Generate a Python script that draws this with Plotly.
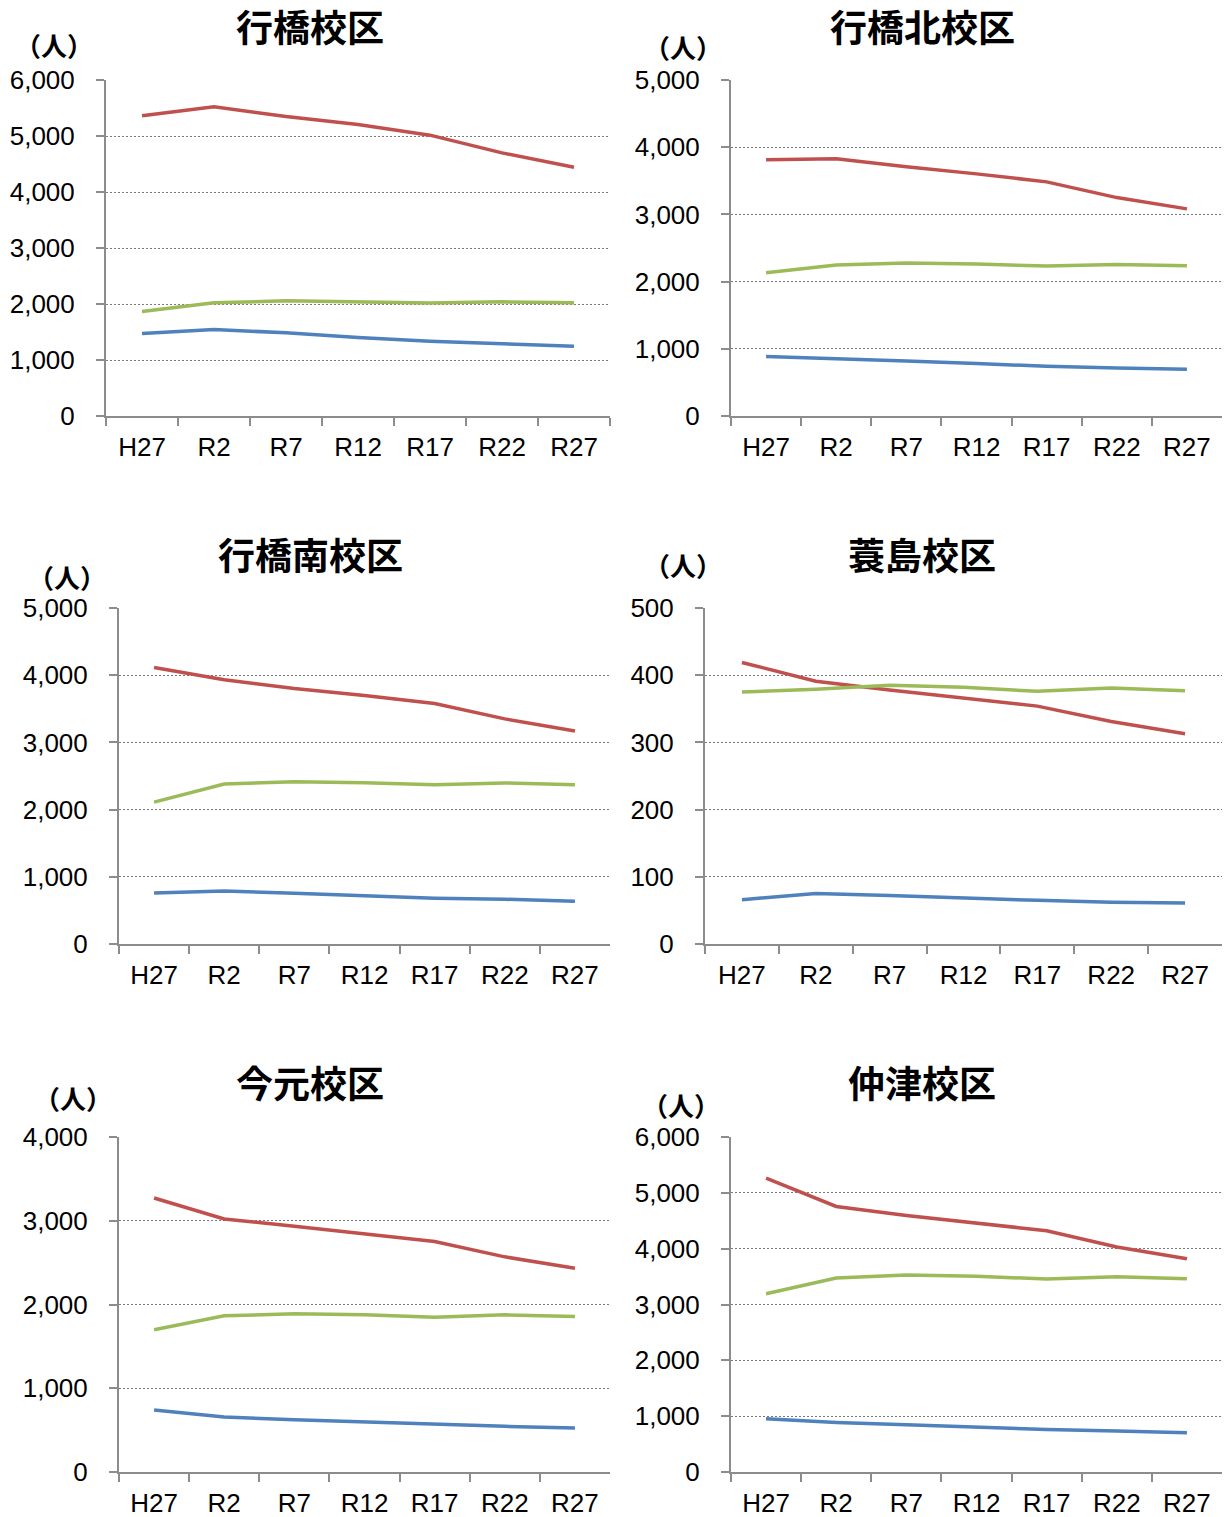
import plotly.graph_objects as go

# Census years (H27) and projection years (R2 ... R27)
years = ["H27", "R2", "R7", "R12", "R17", "R22", "R27"]

district_names = ["行橋校区", "行橋北校区", "行橋南校区", "蓑島校区", "今元校区", "仲津校区"]

# 行橋校区
yukuhashi_young = [1473, 1544, 1485, 1401, 1336, 1288, 1246]
yukuhashi_working = [5361, 5522, 5349, 5206, 5015, 4699, 4443]
yukuhashi_elderly = [1866, 2021, 2057, 2039, 2016, 2039, 2021]

# 行橋北校区
kita_young = [885, 855, 820, 780, 741, 716, 696]
kita_working = [3812, 3827, 3708, 3603, 3484, 3250, 3082]
kita_elderly = [2132, 2247, 2276, 2261, 2232, 2256, 2237]

# 行橋南校区
minami_young = [760, 790, 755, 721, 681, 666, 636]
minami_working = [4115, 3932, 3802, 3698, 3579, 3350, 3171]
minami_elderly = [2112, 2381, 2415, 2401, 2371, 2396, 2371]

# 蓑島校区
minoshima_young = [66, 75, 72, 68, 65, 62, 61]
minoshima_working = [419, 391, 378, 366, 354, 331, 313]
minoshima_elderly = [375, 379, 385, 382, 376, 381, 377]

# 今元校区
imamoto_young = [740, 656, 624, 596, 565, 545, 525]
imamoto_working = [3272, 3022, 2934, 2847, 2751, 2569, 2433]
imamoto_elderly = [1698, 1865, 1889, 1877, 1849, 1877, 1857]

# 仲津校区
nakatsu_young = [954, 888, 846, 799, 763, 733, 703]
nakatsu_working = [5262, 4756, 4595, 4458, 4321, 4029, 3820]
nakatsu_elderly = [3194, 3474, 3528, 3504, 3456, 3498, 3462]

y_max = [6000, 5000, 5000, 500, 4000, 6000]
y_step = [1000, 1000, 1000, 100, 1000, 1000]

series_by_district = [
    (yukuhashi_young, yukuhashi_working, yukuhashi_elderly),
    (kita_young, kita_working, kita_elderly),
    (minami_young, minami_working, minami_elderly),
    (minoshima_young, minoshima_working, minoshima_elderly),
    (imamoto_young, imamoto_working, imamoto_elderly),
    (nakatsu_young, nakatsu_working, nakatsu_elderly),
]

COLORS = ["#4F81BD", "#C0504D", "#9BBB59"]  # young, working-age, elderly

W, H = 1225, 1517
# plot areas in pixels: (left, right, top, bottom)
boxes = [
    (106, 610, 80, 416),
    (731, 1222, 80, 416),
    (119, 610, 608, 944),
    (705, 1222, 608, 944),
    (119, 610, 1137, 1472),
    (731, 1222, 1137, 1472),
]
title_pos = [(310, 26), (922, 26), (310, 554), (922, 554), (310, 1082), (922, 1082)]
unit_pos = [(54, 45), (683, 47), (67, 576), (683, 564), (73, 1097), (681, 1104)]

AXIS_COLOR = "#8c8c8c"
TICK_FONT = dict(family="Liberation Sans, Arial, sans-serif", size=26, color="#000000")
CJK = "Noto Sans CJK JP"

fig = go.Figure()
layout = dict(
    template="none",
    width=W, height=H,
    margin=dict(l=0, r=0, t=0, b=0, autoexpand=False),
    paper_bgcolor="white", plot_bgcolor="white",
    showlegend=False,
    annotations=[],
)

for i, (series, box) in enumerate(zip(series_by_district, boxes)):
    n = i + 1
    xa = "x" if n == 1 else f"x{n}"
    ya = "y" if n == 1 else f"y{n}"
    for values, color in zip(series, COLORS):
        fig.add_trace(go.Scatter(
            x=years, y=values, mode="lines",
            line=dict(color=color, width=3.5),
            xaxis=xa, yaxis=ya, hoverinfo="skip",
        ))
    left, right, top, bottom = box
    layout[f"xaxis{'' if n == 1 else n}"] = dict(
        domain=[left / W, right / W],
        anchor=ya,
        type="category",
        range=[-0.5, 6.5],
        automargin=False,
        showgrid=False, zeroline=False,
        showline=True, linecolor=AXIS_COLOR, linewidth=2,
        ticks="outside", ticklen=8, tickwidth=2, tickcolor=AXIS_COLOR,
        tickson="boundaries",
        tickfont=TICK_FONT,
        ticklabelstandoff=7,
        fixedrange=True,
    )
    layout[f"yaxis{'' if n == 1 else n}"] = dict(
        domain=[1 - bottom / H, 1 - top / H],
        anchor=xa,
        range=[0, y_max[i]],
        automargin=False,
        tickmode="linear", tick0=0, dtick=y_step[i],
        tickformat=",d",
        showgrid=True, gridcolor="#7a7a7a", gridwidth=1, griddash="2px,2px",
        zeroline=False,
        showline=True, linecolor=AXIS_COLOR, linewidth=2,
        ticks="outside", ticklen=8, tickwidth=2, tickcolor=AXIS_COLOR,
        tickfont=TICK_FONT,
        ticklabelstandoff=16,
        fixedrange=True,
    )
    tx, ty = title_pos[i]
    layout["annotations"].append(dict(
        text=f"<b>{district_names[i]}</b>", x=tx / W, y=1 - ty / H,
        xref="paper", yref="paper", xanchor="center", yanchor="middle",
        showarrow=False, font=dict(family=CJK, size=37, color="#000000"),
    ))
    ux, uy = unit_pos[i]
    layout["annotations"].append(dict(
        text="<b>（人）</b>", x=ux / W, y=1 - uy / H,
        xref="paper", yref="paper", xanchor="center", yanchor="middle",
        showarrow=False, font=dict(family=CJK, size=26, color="#000000"),
    ))

fig.update_layout(**layout)
fig.write_html("out.html")
